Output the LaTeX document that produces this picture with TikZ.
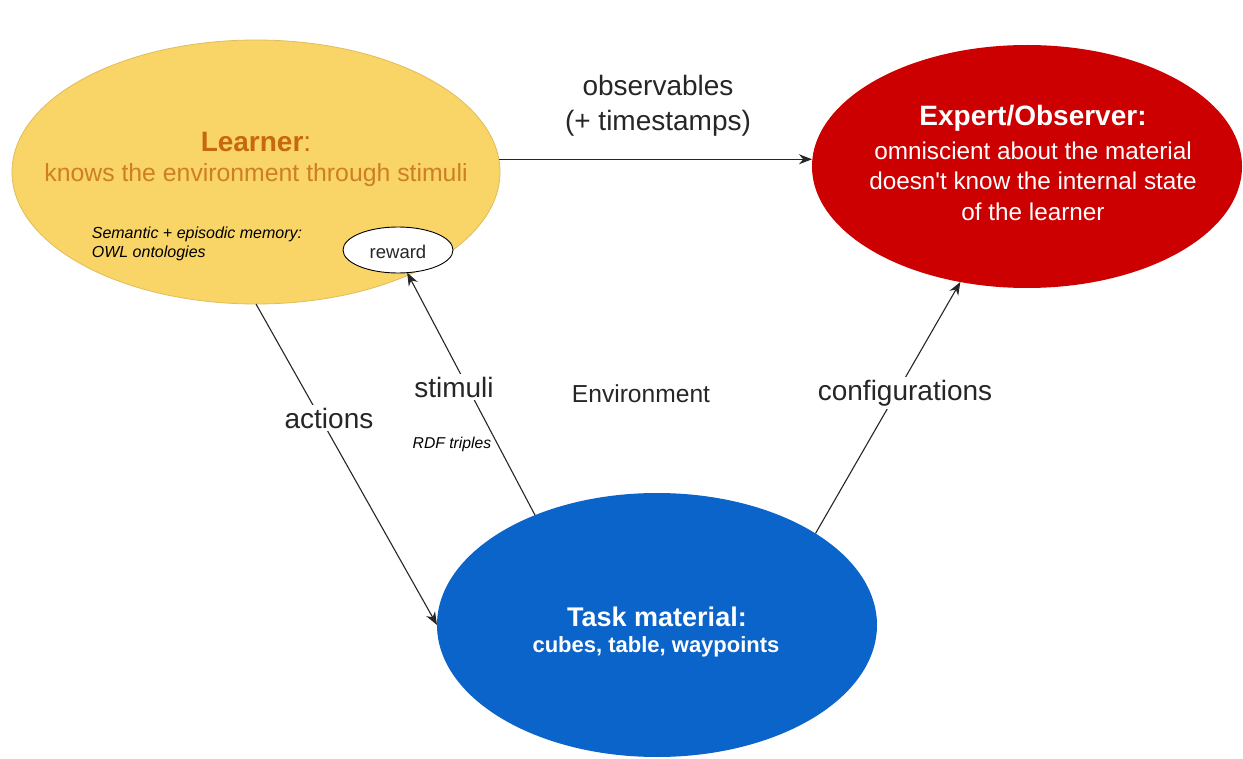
\documentclass[tikz,border=0pt]{standalone}
\usepackage{fontspec}
\setmainfont{Liberation Sans}[Ligatures=TeXOff]
\usetikzlibrary{shapes.geometric,arrows.meta}
\definecolor{lyellow}{HTML}{F9D466}
\definecolor{lyellowdraw}{HTML}{E0BC5A}
\definecolor{ered}{HTML}{CC0000}
\definecolor{tblue}{HTML}{0A64C9}
\definecolor{ltitle}{HTML}{C8680C}
\definecolor{lsub}{HTML}{CE7E24}
\definecolor{ink}{HTML}{262626}
\tikzset{
  blob/.style={ellipse, inner sep=0pt, outer sep=0pt},
  arr/.style={draw=ink, line width=1.1pt, -{Stealth[length=13pt,width=10pt]}},
  lbl/.style={font=\fontsize{28}{35}\selectfont, text=ink, inner sep=1pt, align=center},
  cut/.style={lbl, fill=white, inner sep=3pt},
  small/.style={font=\fontsize{16}{19.5}\selectfont\itshape, text=black, inner sep=0pt, align=left},
}
\begin{document}
\begin{tikzpicture}[x=1pt,y=-1pt]
\useasboundingbox (0,0) rectangle (1243,759);
% main shapes
\node[blob, fill=lyellow, draw=lyellowdraw, line width=0.8pt, minimum width=488pt, minimum height=264pt] (learner) at (256,172) {};
\node[blob, fill=ered, minimum width=430pt, minimum height=243pt] (expert) at (1027,166.5) {};
\node[blob, fill=tblue, minimum width=440pt, minimum height=264pt] (task) at (657,625) {};
\node[blob, fill=white, draw=black, line width=0.9pt, minimum width=110pt, minimum height=46pt] (reward) at (398,250) {};
% texts inside shapes
\node[text=ltitle, font=\fontsize{28}{34}\selectfont, inner sep=0pt] (ltitle) at (256,142) {\textbf{Learner}:};
\node[text=lsub, font=\fontsize{24.8}{30}\selectfont, inner sep=0pt] (lsub) at (256,175) {knows the environment through stimuli};
\node[small] (mem) at (197,244) {Semantic + episodic memory:\\OWL ontologies};
\node[text=ink, font=\fontsize{18.5}{22}\selectfont, inner sep=0pt] (rewardtxt) at (398,252) {reward};
\node[text=white, font=\bfseries\fontsize{28}{34}\selectfont, inner sep=0pt] (etitle) at (1033,118) {Expert/Observer:};
\node[text=white, font=\fontsize{24.3}{30.5}\selectfont, inner sep=0pt, align=center] (ebody) at (1033,181) {omniscient about the material\\doesn't know the internal state\\of the learner};
\node[text=white, font=\bfseries\fontsize{27}{32}\selectfont, inner sep=0pt] (ttitle) at (657,617) {Task material:};
\node[text=white, font=\bfseries\fontsize{22}{26}\selectfont, inner sep=0pt] (tsub) at (656,647) {cubes, table, waypoints};
% connectors
\coordinate (obsstart) at (learner.3.5);
\draw[arr] (obsstart) -- (expert.west |- obsstart);
\draw[arr] (learner.south) -- (task.west);
\draw[arr] (task.138.2) -- (reward.-68.6);
\draw[arr] (task.30.8) -- (expert.240.4);
% connector labels
\node[lbl] (obs) at (658,106) {observables\\(+ timestamps)};
\node[cut] (act) at (329,418) {actions};
\node[cut] (stim) at (454,387) {stimuli};
\node[cut] (conf) at (905,393) {configurations};
\node[text=ink, font=\fontsize{24.6}{30}\selectfont, inner sep=0pt] (env) at (641,394) {Environment};
\node[text=black, font=\fontsize{15.7}{19}\selectfont\itshape, inner sep=0pt] (rdf) at (452,444) {RDF triples};
\end{tikzpicture}
\end{document}
